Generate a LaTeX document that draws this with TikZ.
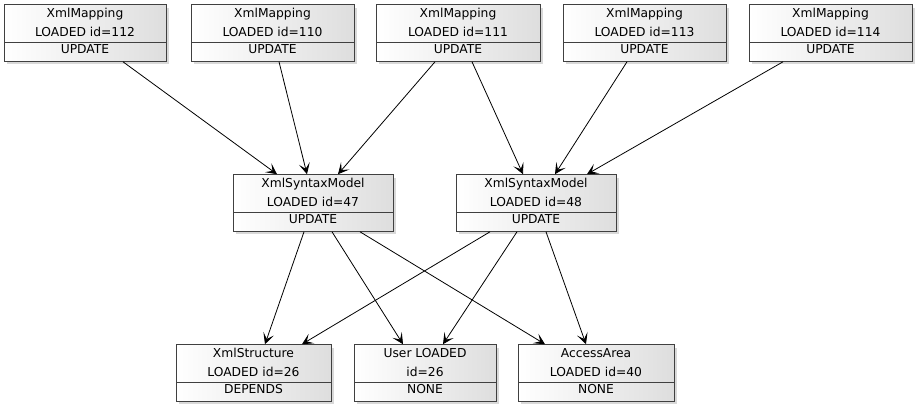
\documentclass[tikz,border=0pt]{standalone}
\usepackage{fontspec}
\setmainfont{DejaVu Sans}
\usetikzlibrary{shadows,arrows.meta}
\newcommand{\tstrut}{\rule[-5.4pt]{0pt}{18.7pt}}
\newcommand{\bstrut}{\rule[-7.4pt]{0pt}{0pt}}

\begin{document}
\begin{tikzpicture}[x=1pt,y=-1pt,
  entity/.style={draw=black!75,line width=0.9pt,inner sep=0pt,align=center,minimum height=56pt,
    left color=white,right color=black!13,
    drop shadow={shadow xshift=3pt,shadow yshift=-3pt,opacity=0.3},
    font=\fontsize{12.3}{18.7}\selectfont,
    path picture={\draw[black!75,line width=0.9pt]
      ([yshift=18.7pt]path picture bounding box.south west) -- ([yshift=18.7pt]path picture bounding box.south east);}},
  dep/.style={-{Stealth[length=11pt,width=11pt,inset=5.5pt]},line width=0.8pt}]
\useasboundingbox (0,0) rectangle (918,408);
\node[entity,minimum width=162pt] (m112) at (85,33) {\tstrut XmlMapping\\LOADED id=112\\[-1.4pt]UPDATE\bstrut};
\node[entity,minimum width=163pt] (m110) at (272.5,33) {\tstrut XmlMapping\\LOADED id=110\\[-1.4pt]UPDATE\bstrut};
\node[entity,minimum width=164pt] (m111) at (458,33) {\tstrut XmlMapping\\LOADED id=111\\[-1.4pt]UPDATE\bstrut};
\node[entity,minimum width=163pt] (m113) at (644.5,33) {\tstrut XmlMapping\\LOADED id=113\\[-1.4pt]UPDATE\bstrut};
\node[entity,minimum width=163pt] (m114) at (830.5,33) {\tstrut XmlMapping\\LOADED id=114\\[-1.4pt]UPDATE\bstrut};
\node[entity,minimum width=160pt] (s47) at (313,203) {\tstrut XmlSyntaxModel\\LOADED id=47\\[-1.4pt]UPDATE\bstrut};
\node[entity,minimum width=160pt] (s48) at (536,203) {\tstrut XmlSyntaxModel\\LOADED id=48\\[-1.4pt]UPDATE\bstrut};
\node[entity,minimum width=155pt] (xs) at (253.5,373) {\tstrut XmlStructure\\LOADED id=26\\[-1.4pt]DEPENDS\bstrut};
\node[entity,minimum width=142pt] (user) at (425,373) {\tstrut User LOADED\\id=26\\[-1.4pt]NONE\bstrut};
\node[entity,minimum width=156pt] (acc) at (596,373) {\tstrut AccessArea\\LOADED id=40\\[-1.4pt]NONE\bstrut};
\draw[dep] ([xshift=38pt]m112.south) -- ([xshift=-36pt]s47.north);
\draw[dep] ([xshift=6.5pt]m110.south) -- ([xshift=-6pt]s47.north);
\draw[dep] ([xshift=-23pt]m111.south) -- ([xshift=25pt]s47.north);
\draw[dep] ([xshift=14pt]m111.south) -- ([xshift=-13pt]s48.north);
\draw[dep] ([xshift=-17.5pt]m113.south) -- ([xshift=19pt]s48.north);
\draw[dep] ([xshift=-47.5pt]m114.south) -- ([xshift=51pt]s48.north);
\draw[dep] ([xshift=-9pt]s47.south) -- ([xshift=11.5pt]xs.north);
\draw[dep] ([xshift=19pt]s47.south) -- ([xshift=-22pt]user.north);
\draw[dep] ([xshift=47pt]s47.south) -- ([xshift=-51pt]acc.north);
\draw[dep] ([xshift=-46pt]s48.south) -- ([xshift=48.5pt]xs.north);
\draw[dep] ([xshift=-19pt]s48.south) -- ([xshift=18pt]user.north);
\draw[dep] ([xshift=10pt]s48.south) -- ([xshift=-10pt]acc.north);
\end{tikzpicture}
\end{document}
